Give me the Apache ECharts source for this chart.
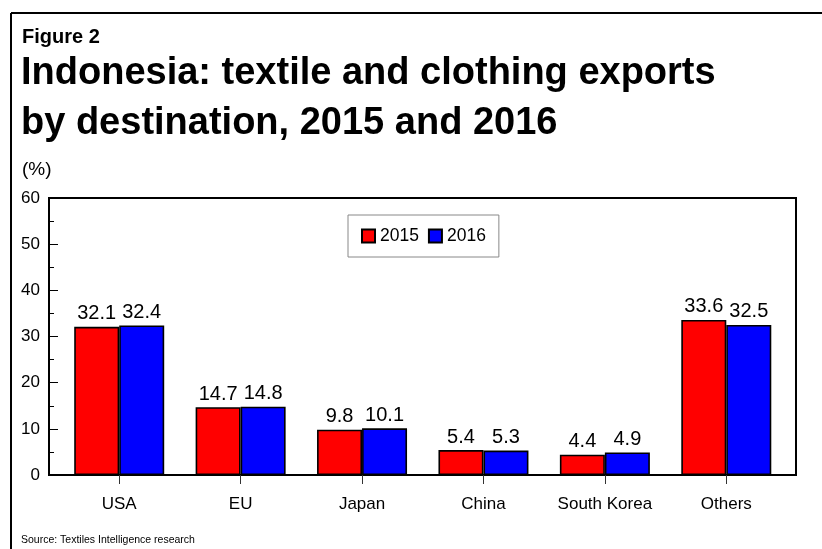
<!DOCTYPE html>
<html>
<head>
<meta charset="utf-8">
<script src="https://cdn.jsdelivr.net/npm/echarts@6/dist/echarts.min.js"></script>
<style>
  html, body { margin: 0; padding: 0; background: #fff; }
  #chart { width: 822px; height: 549px; }
</style>
</head>
<body>
<div id="chart"></div>
<script>
// Indonesia: textile and clothing exports by destination (% share)
const categories = ['USA', 'EU', 'Japan', 'China', 'South Korea', 'Others'];
const values2015 = [32.1, 14.7, 9.8, 5.4, 4.4, 33.6];
const values2016 = [32.4, 14.8, 10.1, 5.3, 4.9, 32.5];
const seriesNames = ['2015', '2016'];
const yTicks = { min: 0, max: 60, step: 10 };

const FONT = '"Liberation Sans", Arial, sans-serif';

const chart = echarts.init(document.getElementById('chart'), null, { renderer: 'canvas' });

const plotTop = 198, plotBottom = 74;

function barSeries(name, data, color) {
  return {
    name: name,
    type: 'bar',
    xAxisIndex: 1,
    yAxisIndex: 1,
    data: data,
    barWidth: 45,
    barGap: '0%',
    itemStyle: { color: color, borderColor: '#000', borderWidth: 1.6 },
    label: {
      show: true,
      position: 'top',
      distance: 3,
      color: '#000',
      fontFamily: FONT,
      fontSize: 20,
      formatter: p => p.value.toFixed(1)
    },
    emphasis: { disabled: true },
    animation: false
  };
}

chart.setOption({
  backgroundColor: '#fff',
  animation: false,
  textStyle: { fontFamily: FONT },
  grid: [
    // plot frame with the value scale
    { left: 49, right: 26, top: plotTop, bottom: plotBottom, show: true,
      borderColor: '#000', borderWidth: 2, backgroundColor: 'transparent' },
    // inner band used by the categories
    { left: 58.5, right: 35, top: plotTop, bottom: plotBottom }
  ],
  xAxis: [
    { gridIndex: 0, type: 'value', show: false, min: 0, max: 1 },
    {
      gridIndex: 1,
      type: 'category',
      data: categories,
      axisLine: { show: false },
      axisTick: { show: true, alignWithLabel: true, length: 9, lineStyle: { color: '#333', width: 1 } },
      axisLabel: { color: '#000', fontSize: 17, fontFamily: FONT, margin: 21, interval: 0 },
      splitLine: { show: false }
    }
  ],
  yAxis: [
    {
      gridIndex: 0,
      type: 'value',
      min: yTicks.min,
      max: yTicks.max,
      interval: yTicks.step,
      axisLine: { show: true, lineStyle: { color: '#000', width: 2 } },
      axisTick: { show: true, inside: true, length: 9, lineStyle: { color: '#000', width: 1 } },
      minorTick: { show: true, splitNumber: 2, length: 5, lineStyle: { color: '#000', width: 1 } },
      axisLabel: { color: '#000', fontSize: 17, fontFamily: FONT, margin: 9 },
      splitLine: { show: false }
    },
    { gridIndex: 1, type: 'value', min: yTicks.min, max: yTicks.max, show: false }
  ],
  legend: {
    data: seriesNames,
    left: 348,
    top: 215,
    orient: 'horizontal',
    borderColor: '#888',
    borderWidth: 1,
    padding: [12, 13],
    itemWidth: 13,
    itemHeight: 13,
    itemGap: 9,
    icon: 'rect',
    textStyle: { color: '#000', fontSize: 17.5, fontFamily: FONT },
    selectedMode: false
  },
  graphic: [
    // outer figure border (top and left)
    { type: 'line', shape: { x1: 11, y1: 13, x2: 822, y2: 13 }, style: { stroke: '#000', lineWidth: 2 } },
    { type: 'line', shape: { x1: 11, y1: 13, x2: 11, y2: 549 }, style: { stroke: '#000', lineWidth: 2 } },
    { type: 'text', left: 22, top: 27, style: { text: 'Figure 2', fill: '#000', font: 'bold 20px ' + FONT } },
    { type: 'text', left: 21, top: 55, style: { text: 'Indonesia: textile and clothing exports', fill: '#000', font: 'bold 38px ' + FONT } },
    { type: 'text', left: 21, top: 105, style: { text: 'by destination, 2015 and 2016', fill: '#000', font: 'bold 38px ' + FONT } },
    { type: 'text', left: 22, top: 160, style: { text: '(%)', fill: '#000', font: '19px ' + FONT } },
    { type: 'text', left: 21, top: 535, style: { text: 'Source: Textiles Intelligence research', fill: '#000', font: '10.5px ' + FONT } }
  ],
  series: [
    barSeries(seriesNames[0], values2015, '#ff0000'),
    barSeries(seriesNames[1], values2016, '#0000ff')
  ]
});
</script>
</body>
</html>
